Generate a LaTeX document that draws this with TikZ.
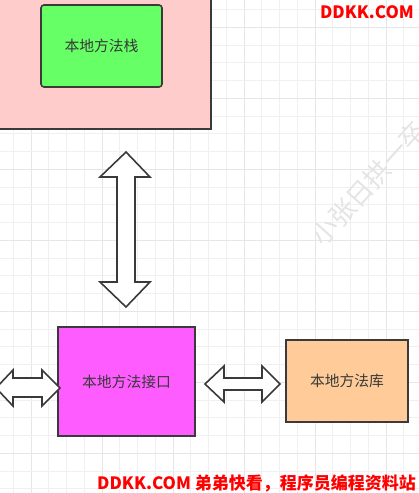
\documentclass[tikz,border=0pt]{standalone}
\usepackage{fontspec}
\newfontfamily\cjk{Noto Sans CJK SC}
\definecolor{gridminor}{HTML}{F0F0F0}
\definecolor{gridmajor}{HTML}{E6E6E6}
\definecolor{edge}{HTML}{3A3A3A}
\definecolor{pinkfill}{HTML}{FFCCCC}
\definecolor{greenfill}{HTML}{66FF66}
\definecolor{magfill}{HTML}{FF5CFF}
\definecolor{orangefill}{HTML}{FFCC99}
\definecolor{wmark}{HTML}{E4E4E4}
\tikzset{
  box/.style={draw=edge, line width=1.6pt},
  lbl/.style={font=\cjk\fontsize{14.8}{17}\selectfont, text=black!78},
  dblarrow/.style={draw=edge, fill=white, line width=1.6pt, line join=miter},
  redtxt/.style={font=\cjk\bfseries\fontsize{17}{20}\selectfont, text=red, inner sep=0pt}
}
\begin{document}
\begin{tikzpicture}[x=1pt,y=-1pt]
\useasboundingbox (0,0) rectangle (419,493);
\begin{scope}
\clip (0,0) rectangle (419,493);
% grid
\foreach \n in {0,...,23}{
  \pgfmathsetmacro\xx{13.25+17.75*\n}
  \pgfmathtruncatemacro\m{mod(\n+3,4)}
  \ifnum\m=0
    \draw[gridmajor, line width=1.0pt] (\xx,0) -- (\xx,493);
  \else
    \draw[gridminor, line width=0.8pt] (\xx,0) -- (\xx,493);
  \fi
}
\foreach \n in {0,...,27}{
  \pgfmathsetmacro\yy{9.55+17.75*\n}
  \pgfmathtruncatemacro\m{mod(\n+3,4)}
  \ifnum\m=0
    \draw[gridmajor, line width=1.0pt] (0,\yy) -- (419,\yy);
  \else
    \draw[gridminor, line width=0.8pt] (0,\yy) -- (419,\yy);
  \fi
}
% watermark
\node[font=\cjk\fontsize{26}{28}\selectfont, text=wmark, rotate=48, anchor=west] (wm) at (314,244) {小张日拱一卒};
% boxes
\draw[box, fill=pinkfill] (-5,-5) rectangle (211,129);
\node[box, fill=greenfill, rounded corners=3pt, minimum width=121pt, minimum height=82pt, lbl] (stack) at (101.5,46) {本地方法栈};
\node[box, fill=magfill, minimum width=137pt, minimum height=109pt, lbl] (iface) at (126.5,381.5) {本地方法接口};
\node[box, fill=orangefill, minimum width=122pt, minimum height=82pt, lbl] (lib) at (347,381) {本地方法库};
% double arrows
\draw[dblarrow] (126,152) -- (150,177) -- (135,177) -- (135,282) -- (150,282) -- (126,307) -- (100,282) -- (117,282) -- (117,177) -- (100,177) -- cycle;
\draw[dblarrow] (60,388) -- (42,370) -- (42,378) -- (13,378) -- (13,370) -- (-4,388) -- (13,406) -- (13,397) -- (42,397) -- (42,406) -- cycle;
\draw[dblarrow] (205,384) -- (224,366) -- (224,378) -- (262,378) -- (262,366) -- (280,384) -- (262,402) -- (262,390) -- (224,390) -- (224,402) -- cycle;
\end{scope}
% red texts
\node[redtxt, anchor=north east] (top) at (414,5) {DDKK.COM};
\node[redtxt, anchor=south east] (bottom) at (416,492) {DDKK.COM 弟弟快看，程序员编程资料站};
\end{tikzpicture}
\end{document}
